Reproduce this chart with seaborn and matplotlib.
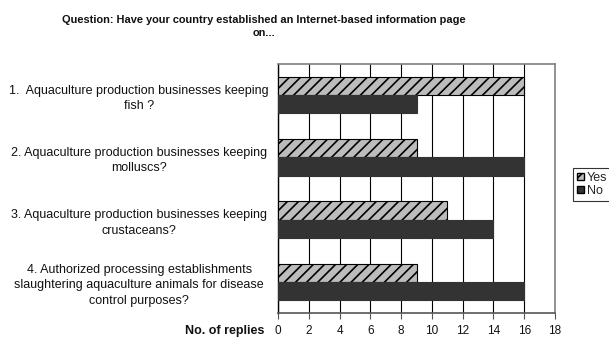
import matplotlib
matplotlib.use("Agg")
import matplotlib.pyplot as plt
from matplotlib.patches import Patch
import seaborn as sns
import pandas as pd

categories = [
    "1.  Aquaculture production businesses keeping\nfish ?",
    "2. Aquaculture production businesses keeping\nmolluscs?",
    "3. Aquaculture production businesses keeping\ncrustaceans?",
    "4. Authorized processing establishments\nslaughtering aquaculture animals for disease\ncontrol purposes?",
]
yes_values = [16, 9, 11, 9]
no_values = [9, 16, 14, 16]
series = ["Yes", "No"]
x_ticks = [0, 2, 4, 6, 8, 10, 12, 14, 16, 18]

df = pd.DataFrame({
    "question": categories * 2,
    "answer": ["Yes"] * len(categories) + ["No"] * len(categories),
    "replies": yes_values + no_values,
})

sns.set_theme(style="white")
plt.rcParams["font.family"] = ["Liberation Sans", "DejaVu Sans"]
plt.rcParams["hatch.linewidth"] = 1.2

YES_C = "#bcbcbc"
NO_C = "#333333"

fig = plt.figure(figsize=(6.09, 3.38), dpi=100)
ax = fig.add_axes([278 / 609, 1 - 313 / 338, (555 - 278) / 609, (313 - 64) / 338])

sns.barplot(data=df, y="question", x="replies", hue="answer", hue_order=series,
            order=categories, orient="h", width=0.59, gap=0,
            palette={"Yes": YES_C, "No": NO_C},
            edgecolor="black", linewidth=0.8, ax=ax, legend=False, zorder=3)

n = len(categories)
for i, p in enumerate(ax.patches[:2 * n]):
    if i < n:
        p.set_hatch("///")
        p.set_edgecolor("black")
    else:
        p.set_edgecolor(NO_C)

ax.set_xlim(0, 18)
ax.set_ylim(n - 0.5, -0.5)
ax.set_xticks(x_ticks)
ax.set_xticklabels([str(t) for t in x_ticks], fontsize=8.5)
ax.xaxis.grid(True, color="black", linewidth=0.8, zorder=0)
ax.set_axisbelow(True)
ax.set_xlabel("")
ax.set_ylabel("")

ax.tick_params(axis="x", which="both", bottom=True, length=4, width=0.8,
               color="#555555", pad=5, labelcolor="#111111")
ax.tick_params(axis="y", length=0, pad=100, labelsize=9, labelcolor="#111111")
for lab in ax.get_yticklabels():
    lab.set_ha("center")
    lab.set_multialignment("center")
    lab.set_linespacing(1.4)

for side in ["top", "right"]:
    ax.spines[side].set_color("#808080")
    ax.spines[side].set_linewidth(1.2)
ax.spines["left"].set_color("black")
ax.spines["left"].set_linewidth(1.0)
ax.spines["bottom"].set_color("#555555")
ax.spines["bottom"].set_linewidth(1.2)

fig.text(264 / 609, 1 - 26.5 / 338,
         "Question: Have your country established an Internet-based information page\non...",
         ha="center", va="center", fontsize=7.9, fontweight="bold", linespacing=1.3,
         color="#111111")
fig.text(264 / 609, 1 - 331 / 338, "No. of replies", ha="right", va="center",
         fontsize=9, fontweight="bold", color="#111111")

handles = [
    Patch(facecolor=YES_C, edgecolor="black", hatch="///", label="Yes"),
    Patch(facecolor=NO_C, edgecolor="black", label="No"),
]
leg = fig.legend(handles=handles, loc="upper left", bbox_to_anchor=(573 / 609, 1 - 168 / 338),
                 fontsize=9, frameon=True, fancybox=False, edgecolor="black",
                 handlelength=0.55, handleheight=0.55, handletextpad=0.25,
                 borderpad=0.3, labelspacing=0.1, borderaxespad=0)
leg.get_frame().set_linewidth(0.8)

fig.savefig("out.png", dpi=100)
